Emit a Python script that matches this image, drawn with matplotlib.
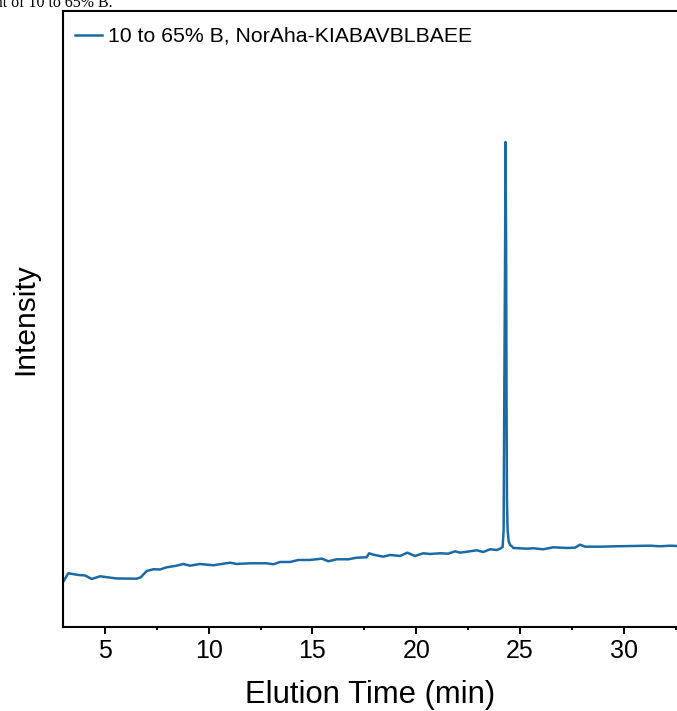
import matplotlib.pyplot as plt
from matplotlib.ticker import MultipleLocator

plt.rcParams['font.family'] = ['Liberation Sans', 'DejaVu Sans']

# Cromatograma (unidades arbitrarias)
tiempo = [3.00, 3.24, 3.72, 4.05, 4.37, 4.77, 5.57, 6.54, 6.73, 7.02, 7.34, 7.66,
          7.98, 8.46, 8.78, 9.10, 9.58, 10.23, 11.03, 11.35, 11.99, 12.80, 13.12,
          13.44, 13.92, 14.32, 14.88, 15.45, 15.77, 16.17, 16.73, 17.13, 17.61,
          17.73, 17.93, 18.41, 18.74, 19.22, 19.57, 19.94, 20.34, 20.66, 21.15,
          21.55, 21.87, 22.11, 22.59, 22.91, 23.23, 23.55, 23.88, 24.04,
          24.16, 24.21, 24.24, 24.28, 24.30, 24.33, 24.35, 24.37, 24.40, 24.45,
          24.52, 24.61, 24.68, 25.32, 25.64, 26.12, 26.60, 27.25, 27.65, 27.89,
          28.13, 28.85, 29.66, 30.46, 31.26, 31.74, 32.22, 32.56, 33.00]
intensidad = [45.0, 53.4, 51.7, 51.2, 47.7, 50.4, 48.2, 48.0, 49.4, 55.7, 57.4, 57.2,
              59.4, 61.0, 62.7, 61.0, 62.7, 61.4, 64.0, 62.7, 63.4, 63.4, 62.4,
              64.7, 64.7, 66.7, 66.7, 68.0, 65.4, 67.4, 67.4, 69.0, 69.4,
              73.4, 72.0, 70.0, 71.7, 70.7, 74.0, 70.7, 73.4, 72.7, 73.4,
              73.0, 75.4, 74.0, 75.4, 76.4, 74.7, 77.4, 76.7, 78.0,
              79.7, 96.7, 226.7, 376.7, 484.7, 376.7, 226.7, 126.7, 96.7, 85.7,
              81.7, 80.2, 78.7, 78.0, 78.4, 77.4, 79.4, 78.7, 79.0, 82.0,
              80.0, 80.0, 80.4, 80.7, 81.0, 80.4, 81.0, 80.7, 80.7]

etiqueta = '10 to 65% B, NorAha-KIABAVBLBAEE'
color_linea = '#1b6aa5'

fig = plt.figure(figsize=(6.77, 7.11), dpi=100)
ax = fig.add_axes([0.0935, 0.1186, 0.9065, 0.8659])

ax.plot(tiempo, intensidad, color=color_linea, lw=1.8, label=etiqueta)

ax.set_xlim(3, 32.56)
ax.set_ylim(0, 615.7)
ax.set_yticks([])
ax.xaxis.set_major_locator(MultipleLocator(5))
ax.xaxis.set_minor_locator(MultipleLocator(2.5))
ax.tick_params(axis='x', which='major', length=4.7, width=1.4, labelsize=18, pad=4.5)
ax.tick_params(axis='x', which='minor', length=2.5, width=1.4)
for s in ['left', 'bottom', 'top']:
    ax.spines[s].set_linewidth(1.5)
ax.spines['right'].set_visible(False)

ax.set_xlabel('Elution Time (min)', fontsize=22.3, labelpad=12)
ax.set_ylabel('Intensity', fontsize=21.5, labelpad=17)

ax.legend(loc='upper left', bbox_to_anchor=(75 / 677, 1 - 27 / 711),
          bbox_transform=fig.transFigure, frameon=False, fontsize=15.3,
          handlelength=1.25, handletextpad=0.3, borderpad=0, borderaxespad=0)

# Fragmento del pie de figura, cortado en el borde superior como en la original
fig.text(113 / 677, 1 - 7 / 711, 'gradient of 10 to 65% B.', ha='right',
         va='baseline', fontsize=11.5, family='Liberation Serif')

plt.savefig('out.png', dpi=100)
